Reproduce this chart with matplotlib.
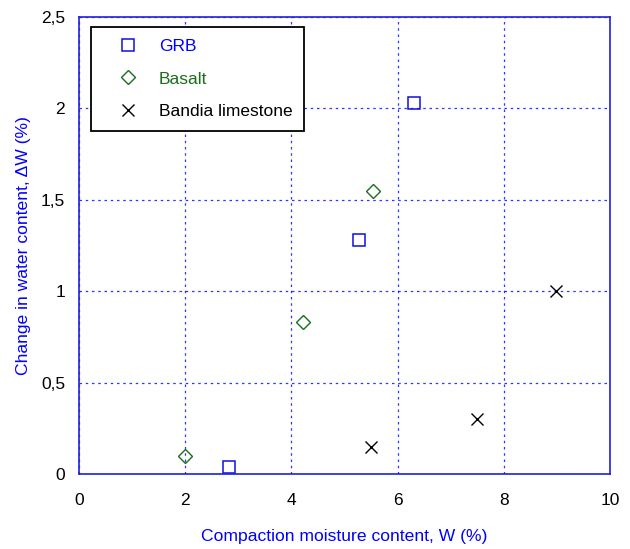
import matplotlib
matplotlib.use("Agg")
import matplotlib.pyplot as plt
from matplotlib.ticker import FixedLocator, FixedFormatter

plt.rcParams['font.family'] = ['Liberation Sans', 'DejaVu Sans']

# Measured points
grb_w = [2.82, 5.27, 6.31]
grb_dw = [0.04, 1.28, 2.03]
basalt_w = [2.0, 4.22, 5.54]
basalt_dw = [0.10, 0.83, 1.55]
lime_w = [5.5, 7.5, 8.98]
lime_dw = [0.15, 0.30, 1.00]

x_ticks = [0, 2, 4, 6, 8, 10]
y_ticks = [0, 0.5, 1, 1.5, 2, 2.5]
y_tick_labels = ["0", "0,5", "1", "1,5", "2", "2,5"]

BLUE = "#0000ff"
GREEN = "#1b6e1b"

fig = plt.figure(figsize=(6.3, 5.49), dpi=100)
ax = fig.add_axes([79 / 630, 75 / 549, 531 / 630, 457 / 549])

ax.plot(grb_w, grb_dw, linestyle="none", marker="s", markersize=9,
        markerfacecolor="none", markeredgecolor="#1010e0", markeredgewidth=1.1,
        label="GRB")
ax.plot(basalt_w, basalt_dw, linestyle="none", marker="D", markersize=7.5,
        markerfacecolor="none", markeredgecolor=GREEN, markeredgewidth=1.0,
        label="Basalt")
ax.plot(lime_w, lime_dw, linestyle="none", marker="x", markersize=9,
        markeredgecolor="black", markeredgewidth=1.0,
        label="Bandia limestone")

ax.set_xlim(0, 10)
ax.set_ylim(0, 2.5)
ax.xaxis.set_major_locator(FixedLocator(x_ticks))
ax.yaxis.set_major_locator(FixedLocator(y_ticks))
ax.yaxis.set_major_formatter(FixedFormatter(y_tick_labels))
ax.tick_params(axis="both", length=0, labelsize=12.5, colors="black")
ax.tick_params(axis="x", pad=14)
ax.tick_params(axis="y", pad=10)

ax.grid(True, color=BLUE, linestyle=(0, (2, 3)), linewidth=0.9, alpha=0.8)
ax.set_axisbelow(True)
for s in ax.spines.values():
    s.set_color("#2020e0")
    s.set_linewidth(1.2)

ax.set_xlabel("Compaction moisture content, W (%)", color=BLUE, fontsize=12.6,
              labelpad=15)
ax.set_ylabel("Change in water content, \u0394W (%)", color=BLUE, fontsize=12.6,
              labelpad=7)

leg = ax.legend(loc="upper left", bbox_to_anchor=(0.0226, 0.978),
                borderaxespad=0, fontsize=12.5, frameon=True, fancybox=False,
                edgecolor="black", framealpha=1, handlelength=2.85,
                handletextpad=0.35, borderpad=0.7, labelspacing=0.98,
                markerscale=1.0)
leg.get_frame().set_linewidth(1.3)
for txt, c in zip(leg.get_texts(), [BLUE, GREEN, "black"]):
    txt.set_color(c)

fig.savefig("out.png", dpi=100)
